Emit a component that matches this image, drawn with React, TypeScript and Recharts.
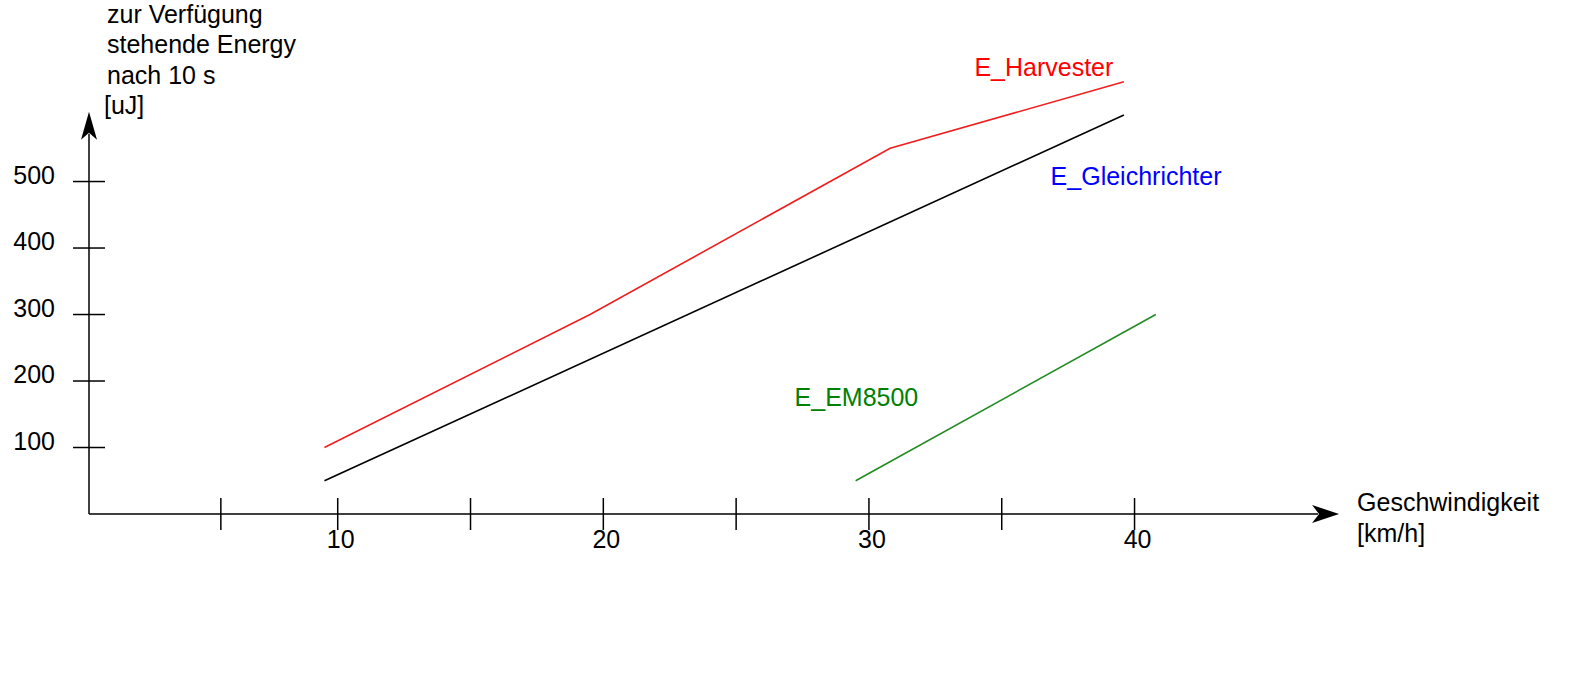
import React from 'react';
import { LineChart, Line, XAxis, YAxis, ReferenceLine, ReferenceDot } from 'recharts';

const harvesterX = [9.5, 19.5, 30.8, 39.6];
const harvesterY = [100, 300, 550, 650];
const gleichrichterX = [9.5, 39.6];
const gleichrichterY = [50, 600];
const em8500X = [29.5, 40.8];
const em8500Y = [50, 300];

const xTicks = [5.6, 10, 15, 20, 25, 30, 35, 40];
const xTickLabels = [10, 20, 30, 40];
const yTicks = [100, 200, 300, 400, 500];

const yTitleLines = ['zur Verfügung', 'stehende Energy', 'nach 10 s', '[uJ]'];
const xTitleLines = ['Geschwindigkeit', '[km/h]'];

const seriesLabels = [
  { text: 'E_Harvester', x: 33.97, y: 658, color: '#ff0000' },
  { text: 'E_Gleichrichter', x: 36.84, y: 495, color: '#0000ff' },
  { text: 'E_EM8500', x: 27.2, y: 162, color: '#008000' },
];

const X_MIN = 0.636;
const X_MAX = 56.47;
const Y_MAX = 773;
const X_ARROW_END = 47.7;
const Y_ARROW_END = 605;

const FONT = '"Liberation Sans", Arial, sans-serif';
const FS = 25;

const zip = (xs: number[], ys: number[]) => xs.map((x, i) => ({ x, y: ys[i] }));
const harvesterData = zip(harvesterX, harvesterY);
const gleichrichterData = zip(gleichrichterX, gleichrichterY);
const em8500Data = zip(em8500X, em8500Y);

const XTick = (props: any) => {
  const { x, y, payload } = props;
  const v = payload.value;
  const show = xTickLabels.includes(v);
  return (
    <g>
      <line x1={x} y1={y - 16} x2={x} y2={y + 16} stroke="#000" strokeWidth={1.5} />
      {show && (
        <text x={x + 3} y={y + 34} textAnchor="middle" fontFamily={FONT} fontSize={FS} fill="#000">
          {v}
        </text>
      )}
    </g>
  );
};

const YTick = (props: any) => {
  const { x, y, payload } = props;
  return (
    <g>
      <line x1={x - 16} y1={y} x2={x + 16} y2={y} stroke="#000" strokeWidth={1.5} />
      <text x={x - 34} y={y + 2} textAnchor="end" fontFamily={FONT} fontSize={FS} fill="#000">
        {payload.value}
      </text>
    </g>
  );
};

const XArrow = (props: any) => {
  const { x1, y1, x2, y2 } = props;
  const len = 27;
  const hw = 9;
  return (
    <g>
      <line x1={x1} y1={y1} x2={x2 - len + 6} y2={y2} stroke="#000" strokeWidth={1.5} />
      <polygon
        points={`${x2},${y2} ${x2 - len},${y2 - hw} ${x2 - len + 7},${y2} ${x2 - len},${y2 + hw}`}
        fill="#000"
      />
      {xTitleLines.map((t, i) => (
        <text key={t} x={x2 + 18} y={y2 - 3 + i * 31} fontFamily={FONT} fontSize={FS} fill="#000">
          {t}
        </text>
      ))}
    </g>
  );
};

const YArrow = (props: any) => {
  const { x1, y1, x2, y2 } = props;
  const len = 28;
  const hw = 8;
  return (
    <g>
      <line x1={x1} y1={y1} x2={x2} y2={y2 + len - 6} stroke="#000" strokeWidth={1.5} />
      <polygon
        points={`${x2},${y2} ${x2 - hw},${y2 + len} ${x2},${y2 + len - 7} ${x2 + hw},${y2 + len}`}
        fill="#000"
      />
      {yTitleLines.map((t, i) => (
        <text
          key={t}
          x={x2 + (i === 3 ? 15 : 18)}
          y={y2 - 89 + i * 30.5}
          fontFamily={FONT}
          fontSize={FS}
          fill="#000"
        >
          {t}
        </text>
      ))}
    </g>
  );
};

const makeLabel = (text: string, color: string) => (props: any) => (
  <text x={props.cx} y={props.cy} fontFamily={FONT} fontSize={FS} fill={color}>
    {text}
  </text>
);

export default function App() {
  return (
    <div style={{ position: 'absolute', left: 0, top: 0, width: 1572, height: 684, background: '#fff' }}>
      <LineChart width={1572} height={684} margin={{ top: 0, right: 0, bottom: 0, left: 0 }}>
        <XAxis
          type="number"
          dataKey="x"
          domain={[X_MIN, X_MAX]}
          ticks={xTicks}
          interval={0}
          axisLine={false}
          tickLine={false}
          tickSize={0}
          tickMargin={0}
          height={170}
          tick={<XTick />}
        />
        <YAxis
          type="number"
          dataKey="y"
          domain={[0, Y_MAX]}
          ticks={yTicks}
          interval={0}
          axisLine={false}
          tickLine={false}
          tickSize={0}
          tickMargin={0}
          width={89}
          tick={<YTick />}
        />
        <ReferenceLine
          segment={[{ x: X_MIN, y: 0 }, { x: X_ARROW_END, y: 0 }]}
          shape={XArrow}
          ifOverflow="visible"
        />
        <ReferenceLine
          segment={[{ x: X_MIN, y: 0 }, { x: X_MIN, y: Y_ARROW_END }]}
          shape={YArrow}
          ifOverflow="visible"
        />
        <Line
          data={harvesterData}
          dataKey="y"
          stroke="#f01e1e"
          strokeWidth={1.6}
          dot={false}
          isAnimationActive={false}
        />
        <Line
          data={gleichrichterData}
          dataKey="y"
          stroke="#000000"
          strokeWidth={1.6}
          dot={false}
          isAnimationActive={false}
        />
        <Line
          data={em8500Data}
          dataKey="y"
          stroke="#228b22"
          strokeWidth={1.6}
          dot={false}
          isAnimationActive={false}
        />
        {seriesLabels.map((l) => (
          <ReferenceDot
            key={l.text}
            x={l.x}
            y={l.y}
            r={0}
            ifOverflow="visible"
            shape={makeLabel(l.text, l.color)}
          />
        ))}
      </LineChart>
    </div>
  );
}
